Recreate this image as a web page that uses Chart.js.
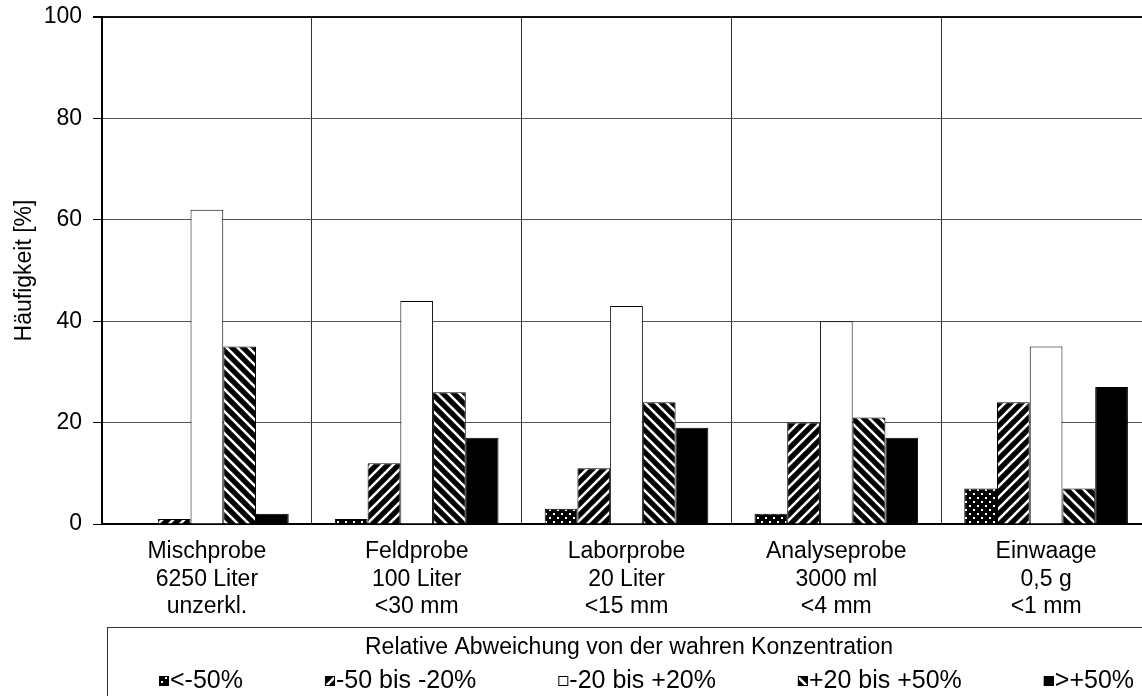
<!DOCTYPE html>
<html>
<head>
<meta charset="utf-8">
<script src="https://cdn.jsdelivr.net/npm/chart.js@4.4.1/dist/chart.umd.min.js"></script>
<style>
  html, body { margin: 0; padding: 0; background: #fff; overflow: hidden; }
  #wrap { width: 1160px; height: 696px; }
</style>
</head>
<body>
<div id="wrap"><canvas id="chart" width="1160" height="696"></canvas></div>
<script>
const categories = [
  ['Mischprobe', '6250 Liter', 'unzerkl.'],
  ['Feldprobe', '100 Liter', '<30 mm'],
  ['Laborprobe', '20 Liter', '<15 mm'],
  ['Analyseprobe', '3000 ml', '<4 mm'],
  ['Einwaage', '0,5 g', '<1 mm']
];
const seriesLabels = ['<-50%', '-50 bis -20%', '-20 bis +20%', '+20 bis +50%', '>+50%'];
const belowMinus50 = [0, 1, 3, 2, 7];
const minus50to20 = [1, 12, 11, 20, 24];
const within20 = [62, 44, 43, 40, 35];
const plus20to50 = [35, 26, 24, 21, 7];
const abovePlus50 = [2, 17, 19, 17, 27];
const yTicksMin = 0;
const yTicksMax = 100;
const yTicksStep = 20;
const yTitle = 'Häufigkeit [%]';
const legendTitle = 'Relative Abweichung von der wahren Konzentration';

const FONT = '"Liberation Sans", Arial, sans-serif';
const canvas = document.getElementById('chart');

function makePattern(size, draw) {
  const tile = document.createElement('canvas');
  tile.width = size;
  tile.height = size;
  const tctx = tile.getContext('2d');
  draw(tctx, size);
  return canvas.getContext('2d').createPattern(tile, 'repeat');
}

function dotPattern() {
  return makePattern(8, (ctx, s) => {
    ctx.fillStyle = '#000';
    ctx.fillRect(0, 0, s, s);
    ctx.fillStyle = '#fff';
    ctx.fillRect(1, 1, 2, 2);
    ctx.fillRect(5, 5, 2, 2);
  });
}

function stripePattern(rising) {
  return makePattern(11, (ctx, s) => {
    ctx.fillStyle = '#000';
    ctx.fillRect(0, 0, s, s);
    ctx.strokeStyle = '#fff';
    ctx.lineWidth = 2.6;
    ctx.beginPath();
    if (rising) {
      ctx.moveTo(-1, s + 1); ctx.lineTo(s + 1, -1);
      ctx.moveTo(-1, 1); ctx.lineTo(1, -1);
      ctx.moveTo(s - 1, s + 1); ctx.lineTo(s + 1, s - 1);
    } else {
      ctx.moveTo(-1, -1); ctx.lineTo(s + 1, s + 1);
      ctx.moveTo(-1, s - 1); ctx.lineTo(1, s + 1);
      ctx.moveTo(s - 1, -1); ctx.lineTo(s + 1, 1);
    }
    ctx.stroke();
  });
}

const seriesValues = [belowMinus50, minus50to20, within20, plus20to50, abovePlus50];
const seriesFills = [dotPattern(), stripePattern(true), '#fff', stripePattern(false), '#000'];

// legend drawn as a framed box under the axis, like the original
const boxLegend = {
  id: 'boxLegend',
  afterDraw(chart) {
    const { ctx, chartArea } = chart;
    const left = chartArea.left + 5;
    const top = chartArea.bottom + 103;
    ctx.save();
    ctx.strokeStyle = '#333';
    ctx.lineWidth = 1;
    ctx.strokeRect(left + 0.5, top + 0.5, chartArea.right - left, chart.height);

    ctx.font = `23px ${FONT}`;
    ctx.fillStyle = '#000';
    ctx.textBaseline = 'middle';
    ctx.textAlign = 'center';
    ctx.fillText(legendTitle, (left + chartArea.right) / 2, top + 21);

    ctx.font = `25px ${FONT}`;
    ctx.textAlign = 'left';
    const y = top + 54;
    let x = left + 52;
    chart.data.datasets.forEach(ds => {
      ctx.fillStyle = ds.backgroundColor;
      ctx.fillRect(x, y - 5, 10, 10);
      ctx.strokeStyle = '#000';
      ctx.strokeRect(x + 0.5, y - 4.5, 9, 9);
      ctx.fillStyle = '#000';
      ctx.fillText(ds.label, x + 11, y);
      x += 11 + ctx.measureText(ds.label).width + 82;
    });
    ctx.restore();
  }
};

Chart.defaults.font.family = FONT;
Chart.defaults.font.size = 23;
Chart.defaults.color = '#000';

new Chart(canvas.getContext('2d'), {
  type: 'bar',
  data: {
    labels: categories,
    datasets: seriesLabels.map((label, i) => ({
      label,
      data: seriesValues[i],
      backgroundColor: seriesFills[i],
      borderColor: '#000',
      borderWidth: 1,
      barPercentage: 1,
      categoryPercentage: 0.78
    }))
  },
  options: {
    responsive: false,
    animation: false,
    layout: {
      padding: { top: 17, right: 9, bottom: 72, left: 0 }
    },
    plugins: {
      legend: { display: false },
      tooltip: { enabled: false }
    },
    scales: {
      x: {
        grid: {
          offset: true,
          drawTicks: false,
          color: '#333',
          lineWidth: 1
        },
        border: { color: '#000', width: 2 },
        ticks: {
          padding: 14,
          maxRotation: 0,
          autoSkip: false,
          font: { size: 23, lineHeight: 1.2 }
        },
        afterFit(scale) { scale.height = 100; }
      },
      y: {
        min: yTicksMin,
        max: yTicksMax,
        ticks: { stepSize: yTicksStep, padding: 11 },
        grid: {
          color: ctx => ctx.tick && ctx.tick.value === yTicksMax ? '#111' : '#555',
          lineWidth: ctx => ctx.tick && ctx.tick.value === yTicksMax ? 2 : 1,
          tickColor: '#000',
          tickLength: 9
        },
        border: { color: '#000', width: 2 },
        title: {
          display: true,
          text: yTitle,
          padding: { top: 11, bottom: 0 },
          font: { size: 23 }
        },
        afterFit(scale) {
          scale.width = 102;
          scale.paddingTop = 0;
        }
      }
    }
  },
  plugins: [boxLegend]
});
</script>
</body>
</html>
